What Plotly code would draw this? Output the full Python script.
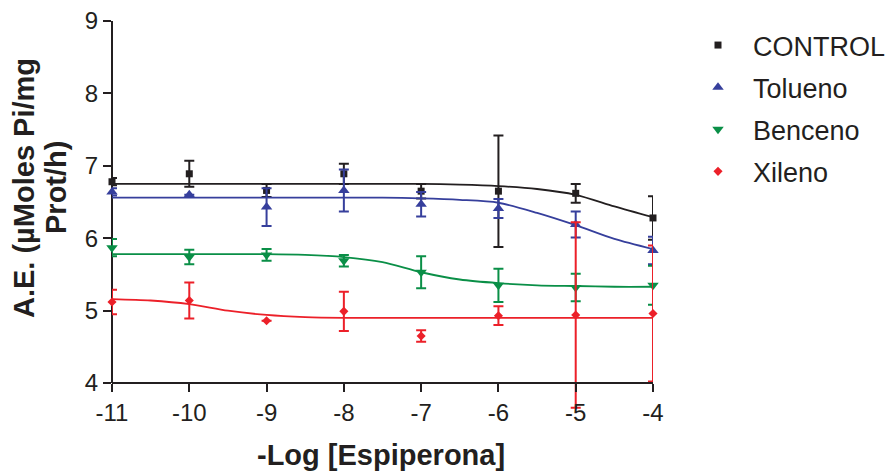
import plotly.graph_objects as go

# ---- data ----
x_vals = [-11, -10, -9, -8, -7, -6, -5, -4]
tick_labels = ["-11", "-10", "-9", "-8", "-7", "-6", "-5", "-4"]
y_ticks = [4, 5, 6, 7, 8, 9]

series_names = ["CONTROL", "Tolueno", "Benceno", "Xileno"]

control_mean = [6.78, 6.89, 6.66, 6.89, 6.65, 6.65, 6.62, 6.28]
control_err = [0.05, 0.18, 0.09, 0.14, 0.10, 0.77, 0.13, 0.30]

tolueno_mean = [6.64, 6.60, 6.43, 6.66, 6.47, 6.41, 6.19, 5.83]
tolueno_err = [0.05, 0.00, 0.26, 0.29, 0.17, 0.13, 0.18, 0.19]

benceno_mean = [5.87, 5.74, 5.77, 5.69, 5.53, 5.35, 5.32, 5.35]
benceno_err = [0.12, 0.10, 0.08, 0.08, 0.22, 0.23, 0.19, 0.27]

xileno_mean = [5.12, 5.14, 4.86, 4.99, 4.65, 4.93, 4.94, 4.96]
xileno_err = [0.17, 0.25, 0.00, 0.27, 0.08, 0.13, 1.28, 0.94]

# fitted curves, read at these x positions
fit_x = [-11, -10.5, -10, -9.5, -9, -8.5, -8, -7.5, -7, -6.5, -6, -5.5, -5, -4.5, -4]
control_fit = [6.75, 6.75, 6.75, 6.75, 6.75, 6.75, 6.75, 6.75, 6.75, 6.74, 6.72, 6.68, 6.60, 6.44, 6.29]
tolueno_fit = [6.56, 6.56, 6.56, 6.56, 6.56, 6.56, 6.56, 6.56, 6.55, 6.53, 6.49, 6.35, 6.18, 5.99, 5.85]
benceno_fit = [5.78, 5.78, 5.78, 5.78, 5.78, 5.77, 5.74, 5.67, 5.53, 5.43, 5.38, 5.35, 5.34, 5.33, 5.33]
xileno_fit = [5.16, 5.14, 5.09, 5.00, 4.94, 4.91, 4.90, 4.90, 4.90, 4.90, 4.90, 4.90, 4.90, 4.90, 4.90]

means = [control_mean, tolueno_mean, benceno_mean, xileno_mean]
errs = [control_err, tolueno_err, benceno_err, xileno_err]
fits = [control_fit, tolueno_fit, benceno_fit, xileno_fit]

colors = ["#231F20", "#363F9C", "#0A8F47", "#EC2029"]
symbols = ["square", "triangle-up", "triangle-down", "diamond"]
sizes = [7, 10, 10, 7]

FONT = "Liberation Sans, Arial, sans-serif"
TXT = "#231F20"

# plot-area geometry (pixels)
W, H = 892, 472
PL, PR, PT, PB = 112, 653, 21, 412   # y range extends a little below 4 so long error bars are not cut
Y_MIN, Y_MAX = 3.6, 9


def px_x(px):
    return (px - PL) / (PR - PL)


def px_y(py):
    return 1 - (py - PT) / (PB - PT)


fig = go.Figure()

for name, m, e, f, c, s, sz in zip(series_names, means, errs, fits, colors, symbols, sizes):
    fig.add_trace(go.Scatter(
        x=fit_x, y=f, mode="lines", line=dict(color=c, width=1.8, shape="spline", smoothing=0.8),
        showlegend=False, hoverinfo="skip", legendgroup=name,
    ))
    fig.add_trace(go.Scatter(
        x=x_vals, y=m, mode="markers", name="\u00a0\u00a0" + name, legendgroup=name,
        marker=dict(symbol=s, size=sz, color=c, line=dict(width=0)),
        error_y=dict(type="data", array=e, visible=True, color=c, thickness=2, width=5),
        cliponaxis=False,
    ))

axis_common = dict(
    ticks="outside", ticklen=8, tickwidth=2,
    tickcolor=TXT, showgrid=False, zeroline=False,
    tickfont=dict(family=FONT, size=24, color=TXT),
)

x_axis_pos = (y_ticks[0] - Y_MIN) / (Y_MAX - Y_MIN)

fig.update_layout(
    width=W, height=H,
    margin=dict(l=PL, r=W - PR, t=PT, b=H - PB, autoexpand=False),
    paper_bgcolor="white", plot_bgcolor="white",
    xaxis=dict(range=[x_vals[0], x_vals[-1]], tickvals=x_vals, ticktext=tick_labels,
               showline=True, linecolor=TXT, linewidth=2,
               anchor="free", position=x_axis_pos, **axis_common),
    yaxis=dict(range=[Y_MIN, Y_MAX], tickvals=y_ticks, showline=False, **axis_common),
    showlegend=True,
    legend=dict(
        x=px_x(698), xanchor="left", y=px_y(21), yanchor="top",
        font=dict(family=FONT, size=27, color=TXT),
        tracegroupgap=4, bgcolor="rgba(0,0,0,0)",
    ),
    shapes=[
        dict(type="line", xref="paper", yref="y", x0=0, x1=0, y0=y_ticks[0], y1=y_ticks[-1],
             line=dict(color=TXT, width=2), layer="below"),
    ],
    annotations=[
        dict(text="A.E. (µMoles Pi/mg", xref="paper", yref="paper",
             x=px_x(24), y=px_y(188), xanchor="center", yanchor="middle",
             textangle=-90, showarrow=False,
             font=dict(family=FONT, size=29, color=TXT, weight="bold")),
        dict(text="Prot/h)", xref="paper", yref="paper",
             x=px_x(56), y=px_y(188), xanchor="center", yanchor="middle",
             textangle=-90, showarrow=False,
             font=dict(family=FONT, size=29, color=TXT, weight="bold")),
        dict(text="-Log [Espiperona]", xref="paper", yref="paper",
             x=px_x(381), y=px_y(455), xanchor="center", yanchor="middle",
             showarrow=False,
             font=dict(family=FONT, size=29, color=TXT, weight="bold")),
    ],
)

fig.write_html("out.html")
